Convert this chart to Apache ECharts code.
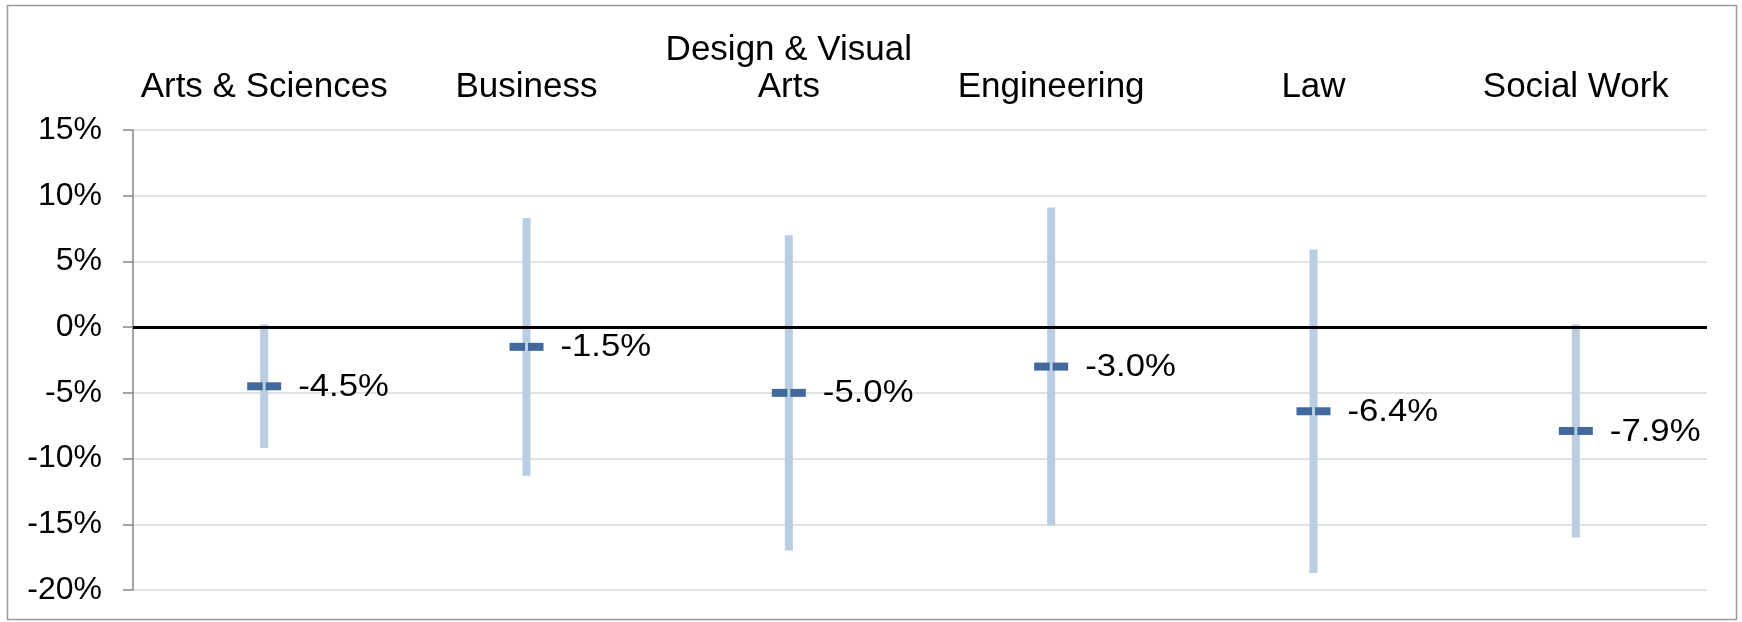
<!DOCTYPE html>
<html><head><meta charset="utf-8">
<script src="https://cdn.jsdelivr.net/npm/echarts@6/dist/echarts.min.js"></script>
<style>html,body{margin:0;padding:0;background:#fff}#c{width:1742px;height:622px}</style>
</head><body><div id="c"></div>
<script>
const categories = ['Arts & Sciences', 'Business', 'Design & Visual\nArts', 'Engineering', 'Law', 'Social Work'];
const meanValues = [-4.5, -1.5, -5.0, -3.0, -6.4, -7.9];
const lowValues = [-9.2, -11.3, -17.0, -15.1, -18.7, -16.0];
const highValues = [0.2, 8.3, 7.0, 9.1, 5.9, 0.2];
const yTicks = [-20, -15, -10, -5, 0, 5, 10, 15];

const FONT = '"Liberation Sans", Arial, sans-serif';
const chart = echarts.init(document.getElementById('c'));
const rangeData = categories.map((c, i) => [i, lowValues[i], highValues[i]]);
const meanData = categories.map((c, i) => [i, meanValues[i]]);

chart.setOption({
  animation: false,
  graphic: [{ type: 'rect', shape: { x: 7.5, y: 5.5, width: 1729, height: 614 }, style: { fill: 'none', stroke: '#9a9a9a', lineWidth: 1.5 }, silent: true }],
  grid: { left: 133, right: 35, top: 130, bottom: 32 },
  xAxis: {
    type: 'category', data: categories, position: 'top',
    axisLine: { show: false }, axisTick: { show: false },
    axisLabel: { color: '#000', fontFamily: FONT, fontSize: 35, margin: 24, lineHeight: 37, interval: 0 }
  },
  yAxis: {
    type: 'value', min: yTicks[0], max: yTicks[yTicks.length - 1], interval: 5,
    axisLine: { show: true, lineStyle: { color: '#868686', width: 1.5 } },
    axisTick: { show: true, length: 10, lineStyle: { color: '#868686', width: 1.5 } },
    axisLabel: { color: '#000', fontFamily: FONT, fontSize: 32, margin: 31, formatter: v => v + '%' },
    splitLine: { lineStyle: { color: '#d9d9d9', width: 1.5 } }
  },
  series: [
    {
      type: 'custom', data: rangeData, z: 2,
      renderItem: (params, api) => {
        const top = api.coord([api.value(0), api.value(2)]);
        const bot = api.coord([api.value(0), api.value(1)]);
        return { type: 'rect', shape: { x: top[0] - 4, y: top[1], width: 8, height: bot[1] - top[1] }, style: { fill: '#b9cde3' } };
      }
    },
    {
      type: 'custom', data: meanData, z: 4,
      renderItem: (params, api) => {
        const p = api.coord([api.value(0), api.value(1)]);
        return { type: 'group', children: [
          { type: 'rect', shape: { x: p[0] - 17, y: p[1] - 4, width: 15.5, height: 8 }, style: { fill: '#41699b' } },
          { type: 'rect', shape: { x: p[0] + 1.5, y: p[1] - 4, width: 15.5, height: 8 }, style: { fill: '#41699b' } },
          { type: 'text', x: p[0] + 34, y: p[1] + 1, scaleX: 1.12, originX: 0, originY: 0, style: { text: api.value(1).toFixed(1) + '%', fill: '#000', font: '31px ' + FONT, verticalAlign: 'middle', align: 'left' } }
        ] };
      }
    },
    {
      type: 'line', data: [], z: 3,
      markLine: { silent: true, symbol: 'none', label: { show: false }, lineStyle: { color: '#000', width: 3, type: 'solid' }, data: [{ yAxis: 0 }] }
    }
  ]
});
</script></body></html>
